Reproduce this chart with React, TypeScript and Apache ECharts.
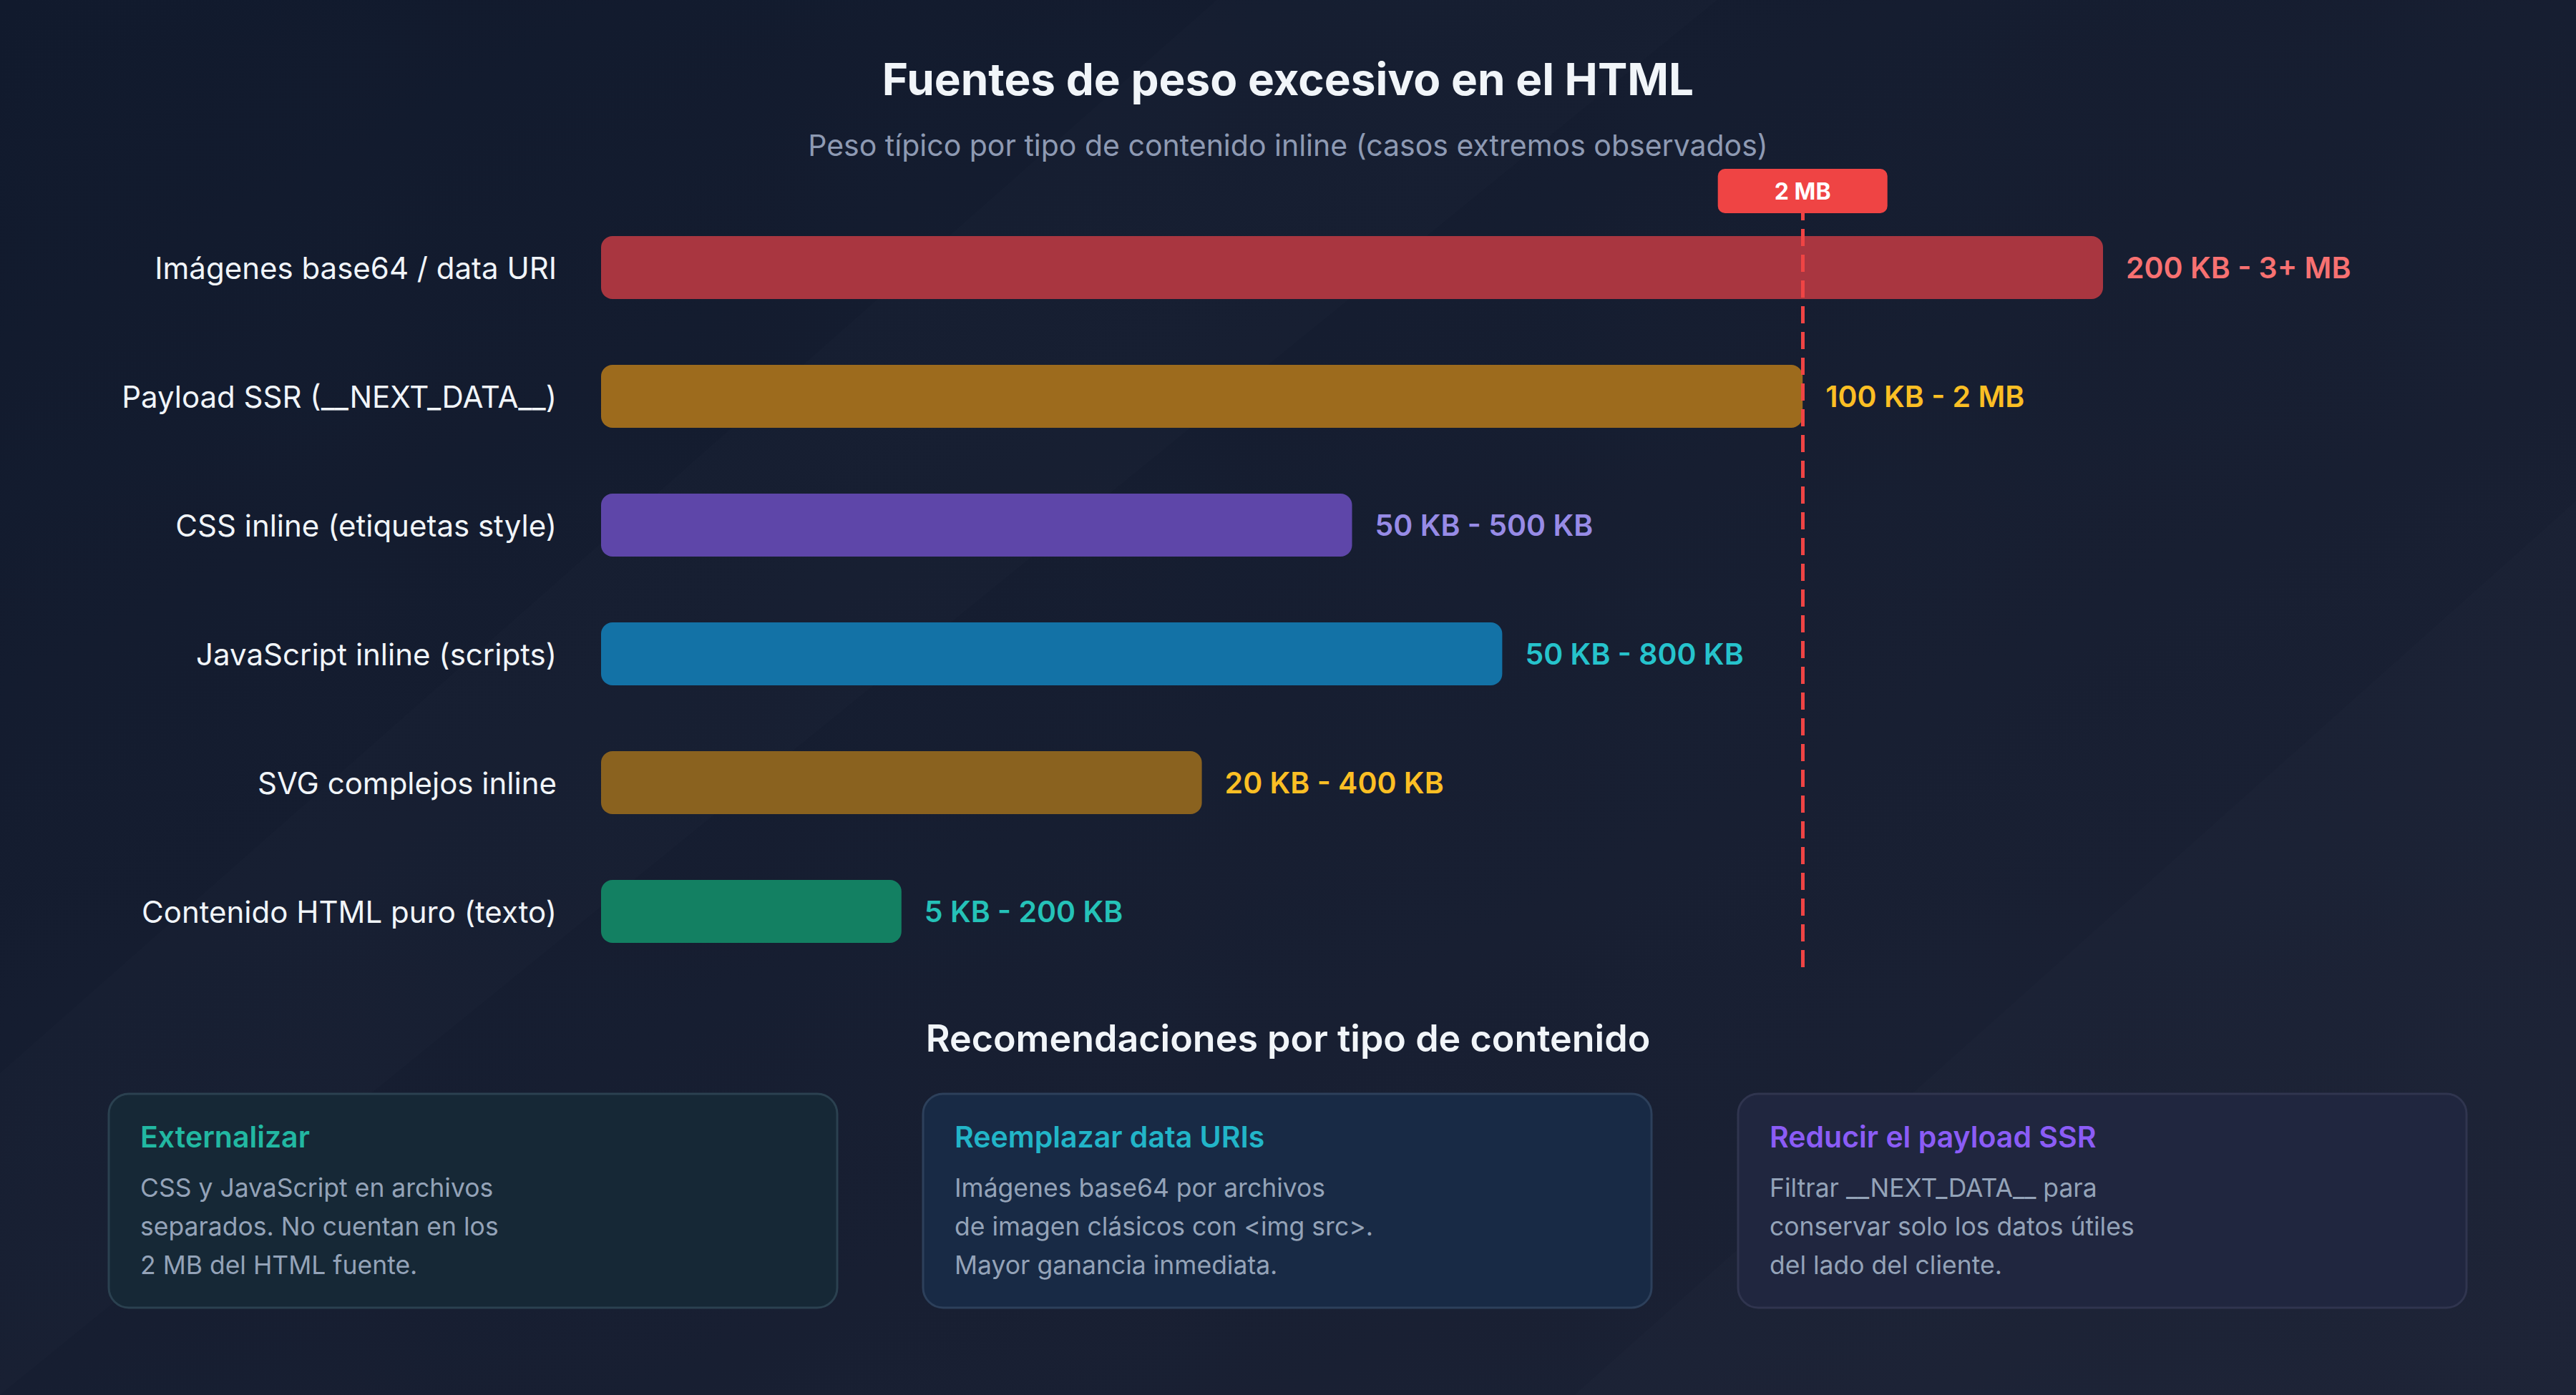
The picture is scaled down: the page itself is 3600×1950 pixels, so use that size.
import React, { useEffect, useRef } from 'react';
import * as echarts from 'echarts';

const FONT = 'Inter, "Noto Sans", sans-serif';

const categories = [
  'Imágenes base64 / data URI',
  'Payload SSR (__NEXT_DATA__)',
  'CSS inline (etiquetas style)',
  'JavaScript inline (scripts)',
  'SVG complejos inline',
  'Contenido HTML puro (texto)',
];
// relative weight (% of the longest bar)
const barValues = [100, 80, 50, 60, 40, 20];
const rangeLabels = [
  '200 KB - 3+ MB',
  '100 KB - 2 MB',
  '50 KB - 500 KB',
  '50 KB - 800 KB',
  '20 KB - 400 KB',
  '5 KB - 200 KB',
];
const barColors = ['#a93640', '#9d6b1d', '#5e46a9', '#1372a6', '#8a621f', '#138062'];
const labelColors = ['#f87171', '#fbbf24', '#978be6', '#26c3cc', '#fbbf24', '#25c2b8'];

const thresholdValue = 80;
const thresholdLabel = '2 MB';

const cardTitles = ['Externalizar', 'Reemplazar data URIs', 'Reducir el payload SSR'];
const cardLines = [
  ['CSS y JavaScript en archivos', 'separados. No cuentan en los', '2 MB del HTML fuente.'],
  ['Imágenes base64 por archivos', 'de imagen clásicos con <img src>.', 'Mayor ganancia inmediata.'],
  ['Filtrar __NEXT_DATA__ para', 'conservar solo los datos útiles', 'del lado del cliente.'],
];
const cardTitleColors = ['#22b8a2', '#22b5c8', '#8b5cf6'];
const cardFills = ['#162836', '#182a45', '#20263f'];
const cardBorders = ['#2b4150', '#2d405b', '#30354f'];

const CARD_X = [152, 1290, 2429];
const CARD_Y = 1529;
const CARD_W = 1018;
const CARD_H = 299;

const App = (): JSX.Element => {
  const divEL = useRef<HTMLDivElement>(null);

  useEffect(() => {
    document.body.style.margin = '0';
    const instance = echarts.init(divEL.current as any, null, { renderer: 'svg' });

    const cards: any[] = cardTitles.map((t, i) => ({
      type: 'group',
      x: CARD_X[i],
      y: CARD_Y,
      children: [
        {
          type: 'rect',
          shape: { x: 0, y: 0, width: CARD_W, height: CARD_H, r: 28 },
          style: { fill: cardFills[i], stroke: cardBorders[i], lineWidth: 3 },
        },
        {
          type: 'text',
          x: 44,
          y: 60,
          style: {
            text: t,
            fill: cardTitleColors[i],
            font: `600 41px ${FONT}`,
            verticalAlign: 'middle',
          },
        },
        {
          type: 'text',
          x: 44,
          y: 104,
          style: {
            text: cardLines[i].join('\n'),
            fill: '#94a3b8',
            font: `400 35.5px ${FONT}`,
            lineHeight: 54,
            verticalAlign: 'top',
          },
        },
      ],
    }));

    const option: any = {
      animation: false,
      backgroundColor: {
        type: 'linear',
        x: 0,
        y: 0,
        x2: 1,
        y2: 1,
        colorStops: [
          { offset: 0, color: '#111a2d' },
          { offset: 1, color: '#1c2235' },
        ],
      },
      title: [
        {
          text: 'Fuentes de peso excesivo en el HTML',
          left: 'center',
          top: 74,
          textStyle: { color: '#f1f5f9', fontSize: 62, fontWeight: 700, fontFamily: FONT },
        },
        {
          text: 'Peso típico por tipo de contenido inline (casos extremos observados)',
          left: 'center',
          top: 177,
          textStyle: { color: '#8e9ab3', fontSize: 41, fontWeight: 400, fontFamily: FONT },
        },
        {
          text: 'Recomendaciones por tipo de contenido',
          left: 'center',
          top: 1420,
          textStyle: { color: '#f1f5f9', fontSize: 52, fontWeight: 600, fontFamily: FONT },
        },
      ],
      graphic: [
        {
          type: 'polygon',
          silent: true,
          z: -10,
          shape: { points: [[0, 1950], [0, 1500], [1700, 0], [2400, 0]] },
          style: { fill: 'rgba(255,255,255,0.012)' },
        },
        {
          type: 'polygon',
          silent: true,
          z: -10,
          shape: { points: [[2200, 1950], [3600, 700], [3600, 1950]] },
          style: { fill: 'rgba(255,255,255,0.012)' },
        },
        ...cards,
      ],
      grid: { left: 840, right: 661, top: 284, bottom: 586 },
      xAxis: {
        type: 'value',
        min: 0,
        max: 100,
        show: false,
      },
      yAxis: {
        type: 'category',
        data: categories,
        inverse: true,
        axisLine: { show: false },
        axisTick: { show: false },
        splitLine: { show: false },
        axisLabel: {
          color: '#f1f5f9',
          fontSize: 42,
          fontFamily: FONT,
          margin: 62,
        },
      },
      series: [
        {
          type: 'bar',
          barWidth: 88,
          data: barValues.map((v, i) => ({
            value: v,
            itemStyle: { color: barColors[i] },
            label: { color: labelColors[i] },
          })),
          itemStyle: { borderRadius: 16 },
          label: {
            show: true,
            position: 'right',
            distance: 32,
            fontSize: 41,
            fontWeight: 600,
            fontFamily: FONT,
            formatter: (p: any) => rangeLabels[p.dataIndex],
          },
          markLine: {
            silent: true,
            symbol: 'none',
            lineStyle: { color: '#ef4444', width: 5, type: [24, 12] },
            label: {
              show: true,
              position: 'start',
              distance: -14,
              formatter: thresholdLabel,
              color: '#ffffff',
              fontSize: 32,
              fontWeight: 700,
              fontFamily: FONT,
              backgroundColor: '#ef4444',
              borderRadius: 10,
              width: 237,
              height: 62,
              lineHeight: 62,
              align: 'center',
            },
            data: [{ xAxis: thresholdValue }],
          },
        },
      ],
    };

    instance.setOption(option);
    return () => {
      instance.dispose();
    };
  }, []);

  return <div ref={divEL} style={{ width: 3600, height: 1950 }}></div>;
};

export default App;
